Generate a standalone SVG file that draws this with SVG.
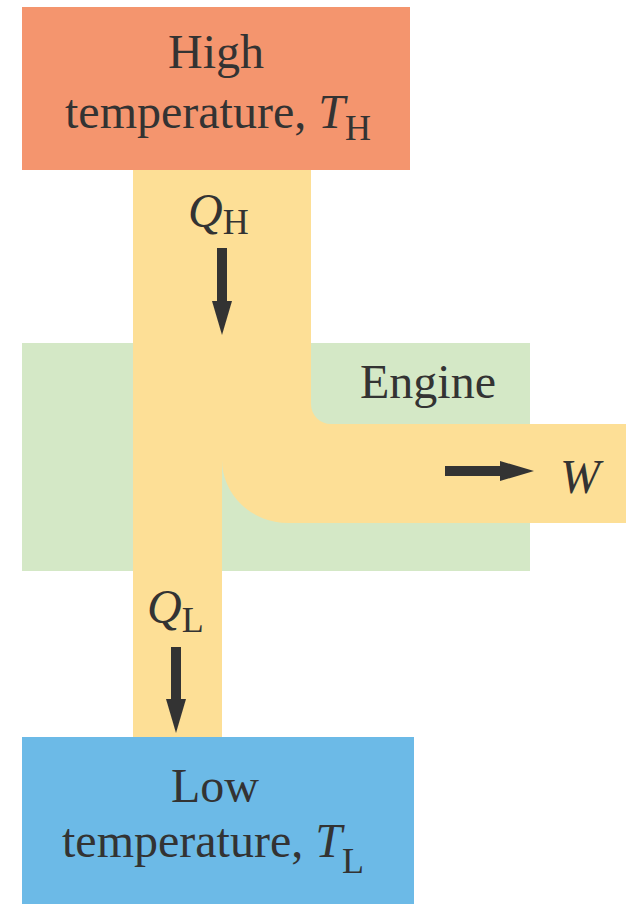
<svg xmlns="http://www.w3.org/2000/svg" width="628" height="904" viewBox="0 0 628 904">
<style>
.t{font-family:'Liberation Serif','Times New Roman','DejaVu Serif',serif;font-size:48px;fill:#333333}
.i{font-style:italic}
.s{font-size:36px}
.arr{stroke:#333333;stroke-width:10;fill:none}
</style>
<defs>
<marker id="head" markerUnits="userSpaceOnUse" markerWidth="36" markerHeight="22" refX="0" refY="10" orient="auto" viewBox="0 0 36 20">
<path d="M0,0 L34,10 L0,20 Z" fill="#333333"/>
</marker>
</defs>
<rect width="628" height="904" fill="#ffffff"/>
<g id="engine">
<rect x="22" y="343" width="508" height="228" fill="#D4E8C6"/>
</g>
<g id="flow">
<path d="M133,170 H311 V404 A20,20 0 0 0 331,424 H626 V523 H288 A66,63 0 0 1 222,460 V738 H133 Z" fill="#FDDF96"/>
</g>
<g id="high">
<rect x="22" y="7" width="388" height="163" fill="#F4956E"/>
<text class="t" x="216" y="68" text-anchor="middle">High</text>
<text class="t" x="65" y="128">temperature, <tspan class="i">T</tspan><tspan class="s" dy="12">H</tspan></text>
</g>
<g id="low">
<rect x="22" y="737" width="392" height="167" fill="#6CBAE7"/>
<text class="t" x="215" y="802" text-anchor="middle">Low</text>
<text class="t" x="62" y="857">temperature, <tspan class="i">T</tspan><tspan class="s" dy="16">L</tspan></text>
</g>
<g id="labels">
<text class="t" x="360" y="398">Engine</text>
<text class="t i" x="560" y="493">W</text>
<text class="t" x="188" y="227"><tspan class="i">Q</tspan><tspan class="s" dy="7">H</tspan></text>
<text class="t" x="147" y="623"><tspan class="i">Q</tspan><tspan class="s" dy="9">L</tspan></text>
</g>
<g id="connectors">
<line class="arr" x1="222" y1="248" x2="222" y2="301" marker-end="url(#head)"/>
<line class="arr" x1="176" y1="647" x2="176" y2="699" marker-end="url(#head)"/>
<line class="arr" x1="445" y1="471" x2="500" y2="471" marker-end="url(#head)"/>
</g>
</svg>
